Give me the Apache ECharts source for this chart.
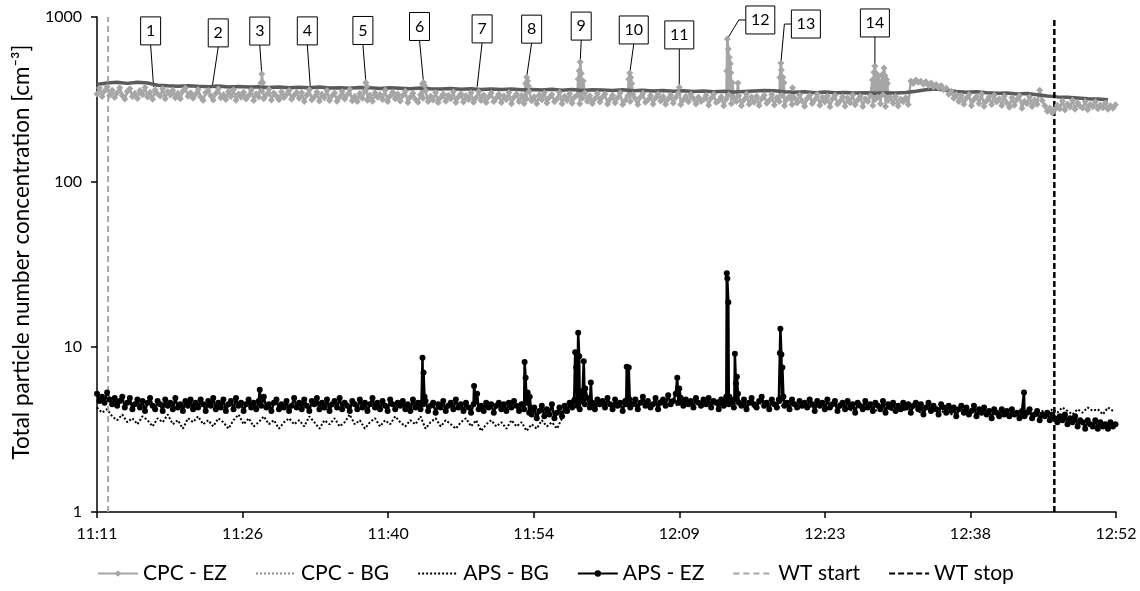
<!DOCTYPE html>
<html lang="en">
<head>
<meta charset="UTF-8">
<title>Total particle number concentration</title>
<script src="https://cdn.jsdelivr.net/npm/echarts@6/dist/echarts.min.js"></script>
<style>
    html, body { margin: 0; padding: 0; background: #fff; }
    #chart { width: 1140px; height: 591px; }
</style>
</head>
<body>
<div id="chart"></div>
<script>
    // x values are minutes after 11:11:46, axis ticks every 14.4 min (0.01 day)
    var startClock = 11 * 60 + 11 + 46 / 60;
    var tickStep = 14.4;
    var axisEnd = 100.8;
    var ezStep = 0.25;      // min between samples of the EZ arrays
    var apsBgStep = 0.5;    // min between samples of APS - BG
    var cpcBgStep = 1;      // min between samples of CPC - BG

    // CPC - EZ, two rows per 10 minutes
    var cpcEz = [
        342, 371, 330, 356, 378, 336, 360, 325, 347, 372, 334, 318, 354, 367, 330, 345, 321, 358, 338, 374,
        327, 350, 317, 362, 341, 332, 368, 320, 353, 337, 360, 324, 345, 319, 356, 371, 331, 348, 322, 340,
        364, 327, 312, 347, 359, 333, 314, 344, 368, 324, 338, 316, 354, 330, 362, 313, 341, 326, 350, 318,
        334, 360, 312, 343, 328, 356, 320, 337, 365, 314, 346, 332, 315, 352, 325, 340, 358, 317, 335, 349,
        322, 347, 308, 336, 362, 315, 329, 351, 310, 340, 324, 358, 312, 333, 346, 309, 327, 354, 318, 338,
        364, 311, 331, 308, 344, 322, 356, 313, 335, 309, 348, 326, 339, 316, 360, 308, 332, 350, 319, 342,
        310, 334, 355, 303, 327, 345, 317, 304, 338, 322, 358, 307, 331, 314, 349, 303, 325, 341, 309, 336,
        320, 352, 303, 328, 343, 305, 333, 316, 347, 304, 324, 354, 312, 337, 303, 329, 346, 308, 323, 340,
        303, 332, 316, 349, 298, 326, 341, 308, 334, 299, 320, 353, 311, 329, 298, 337, 315, 346, 301, 325,
        339, 306, 318, 350, 298, 331, 312, 343, 300, 327, 335, 298, 322, 347, 309, 333, 299, 319, 344, 305,
        328, 341, 297, 317, 336, 302, 324, 348, 295, 313, 332, 307, 339, 319, 295, 326, 345, 304, 315, 334,
        297, 323, 342, 310, 330, 296, 318, 337, 301, 325, 346, 295, 314, 331, 306, 340, 320, 297, 328, 308,
        316, 335, 292, 322, 341, 303, 311, 329, 290, 318, 338, 298, 324, 307, 333, 290, 315, 342, 296, 327,
        304, 331, 291, 319, 336, 300, 312, 339, 293, 325, 307, 334, 290, 317, 330, 295, 323, 301, 337, 310,
        288, 321, 334, 299, 315, 340, 292, 326, 305, 332, 286, 318, 335, 297, 309, 329, 288, 323, 302, 337,
        294, 314, 331, 287, 320, 307, 333, 291, 316, 328, 298, 338, 287, 312, 325, 300, 330, 289, 317, 306,
        324, 295, 410, 396, 415, 402, 408, 391, 405, 384, 398, 377, 390, 372, 385, 362, 370, 340, 355, 322,
        340, 308, 333, 296, 322, 339, 290, 316, 330, 299, 341, 288, 311, 328, 295, 335, 306, 320, 291, 332,
        302, 284, 325, 292, 316, 333, 280, 309, 298, 328, 287, 314, 296, 360, 312, 290, 268, 281, 262, 275,
        292, 278, 310, 273, 297, 285, 313, 276, 302, 288, 281, 308, 274, 295, 286, 306, 278, 293, 282, 301, 276, 290, 280, 294
    ];
    // short CPC - EZ peaks [minute, value]
    var cpcEzPeaks = [
        [16.2, 398], [16.3, 451], [16.4, 401],
        [26.6, 401], [26.7, 380],
        [32.2, 392], [32.3, 401], [32.4, 385],
        [42.4, 395], [42.5, 432], [42.6, 410], [42.7, 380],
        [47.6, 420], [47.7, 473], [47.8, 533], [47.9, 455], [48.1, 410],
        [52.6, 420], [52.7, 458], [52.8, 430], [52.9, 395],
        [57.6, 375],
        [62.3, 470], [62.35, 736], [62.45, 640], [62.55, 570], [62.65, 520], [62.7, 460], [62.85, 400],
        [63.4, 398],
        [67.55, 430], [67.65, 526], [67.7, 478], [67.85, 432], [67.95, 400],
        [68.8, 372],
        [76.7, 415], [76.85, 462], [76.95, 505], [77.1, 455], [77.2, 412], [77.3, 438],
        [77.6, 405], [77.7, 450], [77.85, 491], [77.95, 440], [78.1, 418], [78.2, 395]
    ];
    var cpcBg = [
        390, 398, 402, 396, 402, 398, 386, 383, 381, 383,
        380, 378, 382, 377, 379, 376, 378, 374, 377, 373,
        375, 372, 376, 371, 373, 370, 374, 372, 369, 373,
        370, 367, 371, 368, 366, 369, 365, 367, 364, 366,
        363, 366, 362, 364, 361, 365, 360, 363, 359, 362,
        361, 358, 362, 357, 360, 356, 359, 355, 357, 354,
        356, 352, 355, 351, 354, 356, 358, 357, 352, 350,
        352, 348, 351, 347, 349, 346, 348, 345, 347, 346,
        349, 355, 362, 366, 360, 354, 350, 352, 348, 345,
        346, 342, 344, 338, 332, 328, 326, 323, 320, 318,
        315
    ];
    var apsBg = [
        4.3, 4.0, 4.2, 3.8, 3.6, 3.9, 3.5, 3.7, 3.4, 3.8, 3.6, 3.3, 3.7, 3.5, 3.9, 3.4, 3.6, 3.2, 3.7, 3.5,
        3.8, 3.4, 3.6, 3.3, 3.7, 3.5, 3.2, 3.6, 3.9, 3.4, 3.7, 3.3, 3.5, 3.8, 3.4, 3.6, 3.2, 3.5, 3.7, 3.4,
        3.6, 3.3, 3.8, 3.5, 3.2, 3.6, 3.4, 3.7, 3.3, 3.5, 3.9, 3.4, 3.6, 3.2, 3.5, 3.7, 3.3, 3.6, 3.4, 3.8,
        3.5, 3.3, 3.6, 3.4, 3.8, 3.2, 3.5, 3.7, 3.3, 3.6, 3.4, 3.2, 3.5, 3.7, 3.3, 3.6, 3.1, 3.4, 3.6, 3.3,
        3.5, 3.2, 3.6, 3.3, 3.5, 3.1, 3.4, 3.2, 3.6, 3.3, 3.5, 3.2, 3.7, 4.2, 4.5, 4.3, 4.6, 4.4, 4.7, 4.3,
        4.5, 4.7, 4.3, 4.6, 4.4, 4.8, 4.5, 4.3, 4.7, 4.6, 4.4, 4.8, 4.5, 4.9, 4.6, 4.4, 4.7, 4.5, 4.8, 4.6,
        4.4, 4.7, 4.5, 4.8, 4.3, 4.6, 4.5, 4.7, 4.4, 4.6, 4.3, 4.5, 4.7, 4.4, 4.6, 4.3, 4.5, 4.7, 4.4, 4.2,
        4.5, 4.3, 4.6, 4.4, 4.2, 4.5, 4.3, 4.6, 4.4, 4.1, 4.3, 4.5, 4.2, 4.4, 4.1, 4.3, 4.5, 4.2, 4.0, 4.3,
        4.1, 4.4, 4.2, 4.0, 4.3, 4.1, 4.4, 4.0, 4.2, 3.9, 4.1, 4.3, 4.0, 4.2, 3.9, 4.1, 4.0, 4.2, 3.8, 4.1,
        4.0, 3.8, 4.1, 3.9, 4.2, 3.8, 4.0, 4.1, 3.9, 4.2, 4.0, 4.3, 4.1, 3.9, 4.2, 4.0, 4.3, 4.1, 4.2, 3.9, 4.3, 4.1
    ];
    // APS - EZ, two rows per 10 minutes
    var apsEz = [
        5.2, 4.7, 5.0, 4.6, 5.3, 4.8, 4.5, 4.9, 4.4, 4.7, 5.0, 4.3, 4.6, 4.9, 4.2, 4.5, 4.8, 4.3, 4.7, 4.1,
        4.6, 4.9, 4.4, 4.2, 4.7, 4.5, 4.1, 4.8, 4.4, 4.6, 4.2, 4.9, 4.3, 4.5, 4.1, 4.7, 4.4, 4.8, 4.2, 4.6,
        4.3, 4.8, 4.5, 4.1, 4.7, 4.4, 4.9, 4.2, 4.6, 4.3, 4.8, 4.1, 4.5, 4.7, 4.2, 4.9, 4.4, 4.6, 4.1, 4.5,
        4.8, 4.3, 4.6, 4.2, 4.7, 4.4, 5.0, 4.3, 4.5, 4.1, 4.6, 4.8, 4.2, 4.5, 4.3, 4.7, 4.1, 4.4, 4.9, 4.3,
        4.6, 4.2, 4.8, 4.4, 4.1, 4.7, 4.5, 4.9, 4.2, 4.6, 4.3, 4.8, 4.1, 4.5, 4.7, 4.3, 4.9, 4.2, 4.6, 4.4,
        4.1, 4.7, 4.5, 4.2, 4.8, 4.3, 4.6, 4.1, 4.5, 4.9, 4.3, 4.6, 4.2, 4.7, 4.4, 4.1, 4.8, 4.5, 4.2, 4.6,
        4.4, 4.7, 4.2, 4.5, 4.1, 4.8, 4.3, 4.6, 4.2, 4.5, 4.7, 4.1, 4.4, 4.6, 4.0, 4.5, 4.3, 4.7, 4.1, 4.4,
        4.6, 4.2, 4.8, 4.3, 4.5, 4.1, 4.6, 4.3, 4.0, 4.5, 4.7, 4.2, 4.4, 4.1, 4.6, 4.3, 4.5, 4.0, 4.4, 4.6,
        4.2, 4.5, 4.1, 4.6, 4.3, 4.7, 4.4, 4.1, 4.5, 4.2, 4.6, 4.0, 3.9, 4.3, 3.7, 4.1, 4.4, 3.8, 4.2, 3.9,
        4.5, 3.7, 4.0, 4.3, 3.8, 4.4, 4.1, 4.6, 4.3, 4.8, 4.4, 4.2, 4.7, 4.5, 4.9, 4.3, 4.6, 4.2, 4.8, 4.5,
        4.7, 4.3, 4.9, 4.5, 4.2, 4.8, 4.4, 4.6, 4.1, 4.7, 4.9, 4.3, 4.5, 4.8, 4.2, 4.6, 5.0, 4.4, 4.7, 4.3,
        4.5, 4.9, 4.2, 4.6, 4.8, 4.4, 5.1, 4.5, 4.7, 5.2, 4.6, 4.9, 4.4, 4.8, 4.5, 4.7, 4.3, 4.9, 4.6, 4.4,
        4.8, 4.5, 4.9, 4.3, 4.7, 4.6, 4.2, 4.8, 4.4, 5.0, 4.5, 4.7, 4.3, 4.9, 4.6, 4.4, 4.8, 4.2, 4.6, 4.9,
        4.5, 4.3, 4.7, 5.0, 4.4, 4.6, 4.2, 4.8, 4.5, 4.3, 4.7, 4.9, 4.4, 4.6, 4.2, 4.8, 4.5, 4.3, 4.7, 4.4,
        4.6, 4.3, 4.8, 4.5, 4.1, 4.7, 4.4, 4.6, 4.2, 4.8, 4.3, 4.5, 4.7, 4.1, 4.4, 4.6, 4.2, 4.7, 4.3, 4.5,
        4.0, 4.6, 4.4, 4.2, 4.7, 4.3, 4.5, 4.1, 4.6, 4.4, 4.2, 4.7, 4.0, 4.5, 4.3, 4.6, 4.1, 4.4, 4.2, 4.6,
        4.3, 4.5, 4.0, 4.4, 4.6, 4.2, 4.5, 3.9, 4.3, 4.6, 4.1, 4.4, 4.2, 3.9, 4.5, 4.3, 4.0, 4.4, 4.1, 4.3,
        3.8, 4.2, 4.4, 4.0, 4.3, 3.9, 4.1, 4.4, 3.8, 4.2, 4.0, 4.3, 3.9, 4.1, 3.7, 4.2, 4.0, 3.8, 4.2, 3.9,
        4.1, 3.8, 4.2, 3.9, 4.0, 3.7, 4.1, 3.8, 4.0, 4.2, 3.7, 3.9, 4.1, 3.6, 3.9, 3.8, 4.0, 3.6, 3.9, 3.7,
        3.5, 3.8, 3.6, 3.9, 3.4, 3.7, 3.5, 3.8, 3.3, 3.6, 3.5, 3.2, 3.6, 3.4, 3.3, 3.6, 3.2, 3.5, 3.3, 3.4, 3.2, 3.5, 3.3, 3.4
    ];
    var apsEzPeaks = [
        [16.1, 5.5],
        [32.1, 4.6], [32.2, 8.6], [32.3, 7.0], [32.4, 5.0],
        [37.3, 5.8], [37.6, 5.2],
        [42.2, 4.5], [42.3, 8.1], [42.4, 6.5], [42.6, 5.3], [42.8, 5.0],
        [47.2, 4.7], [47.3, 9.3], [47.4, 7.5], [47.6, 12.2], [47.7, 8.8], [47.85, 5.4],
        [48.15, 8.2], [48.3, 5.6], [48.85, 6.1], [48.95, 4.6],
        [52.35, 4.5], [52.4, 7.6], [52.6, 7.5], [52.7, 4.8],
        [57.4, 6.5], [57.6, 5.6],
        [62.2, 4.7], [62.3, 28.0], [62.35, 26.0], [62.45, 18.7], [62.55, 5.0],
        [63.05, 4.8], [63.1, 9.1], [63.2, 6.0], [63.3, 6.6], [63.4, 5.2],
        [67.45, 4.8], [67.55, 9.2], [67.6, 12.9], [67.7, 9.0], [67.8, 7.5], [67.9, 5.0],
        [91.7, 5.3]
    ];
    var wtStart = 1.1;
    var wtStop = 94.7;

    var eventNames = ['1', '2', '3', '4', '5', '6', '7', '8', '9', '10', '11', '12', '13', '14'];
    var eventTimes = [5.6, 11.4, 16.3, 21.1, 26.6, 32.3, 37.6, 42.5, 47.8, 52.7, 57.6, 62.35, 67.65, 76.95];
    var eventValues = [377, 377, 451, 377, 401, 401, 377, 432, 533, 458, 377, 736, 526, 505];

    // label box offset from its point in px, and whether the leader leaves from the box side
    var labelOffsets = [[-3, -56], [6, -54], [-2, -43], [-3, -56], [-3, -52], [-4, -56], [5, -58],
        [5, -48], [1, -36], [4, -43], [0, -52], [33, -19], [25, -39], [0, -43]];
    var sideLeader = [false, false, false, false, false, false, false, false, false, false, false, true, true, false];

    var font = 'Lato, "DejaVu Sans", sans-serif';

    function toPoints(values, step, peaks) {
        var pts = values.map(function (v, i) { return [i * step, v]; });
        if (peaks) pts = pts.concat(peaks);
        pts.sort(function (a, b) { return a[0] - b[0]; });
        return pts;
    }

    function clock(v) {
        var m = Math.floor(startClock + v + 1e-6);
        var mm = m % 60;
        return Math.floor(m / 60) + ':' + (mm < 10 ? '0' : '') + mm;
    }

    var noSymbol = { opacity: 0 };

    var chart = echarts.init(document.getElementById('chart'));
    chart.setOption({
        animation: false,
        backgroundColor: '#fff',
        grid: { left: 97, right: 24, top: 17, bottom: 79 },
        legend: {
            left: 92,
            bottom: 2,
            itemWidth: 40,
            itemHeight: 8,
            itemGap: 28,
            textStyle: { fontFamily: font, fontSize: 21, color: '#000' },
            data: [
                { name: 'CPC - EZ' },
                { name: 'CPC - BG', itemStyle: noSymbol, lineStyle: { type: 'dotted', color: '#8c8c8c', width: 2 } },
                { name: 'APS - BG', itemStyle: noSymbol },
                { name: 'APS - EZ' },
                { name: 'WT start', itemStyle: noSymbol },
                { name: 'WT stop', itemStyle: noSymbol }
            ]
        },
        xAxis: {
            type: 'value',
            min: 0,
            max: axisEnd,
            interval: tickStep,
            splitLine: { show: false },
            axisLine: { lineStyle: { color: '#000', width: 1.5 } },
            axisTick: { length: 6, lineStyle: { color: '#000', width: 1.5 } },
            axisLabel: { margin: 14, fontFamily: font, fontSize: 16, color: '#000', formatter: clock }
        },
        yAxis: {
            type: 'log',
            logBase: 10,
            min: 1,
            max: 1000,
            name: 'Total particle number concentration [cm\u207B\u00B3]',
            nameLocation: 'middle',
            nameGap: 64,
            nameTextStyle: { fontFamily: font, fontSize: 22.5, color: '#000', padding: [0, 0, 0, 25] },
            splitLine: { show: false },
            axisLine: { show: true, lineStyle: { color: '#000', width: 1.5 } },
            axisTick: { show: true, length: 6, lineStyle: { color: '#000', width: 1.5 } },
            axisLabel: {
                margin: 15, fontFamily: font, fontSize: 16, color: '#000',
                formatter: function (v) { return String(v); }
            }
        },
        series: [
            {
                name: 'CPC - EZ',
                type: 'line',
                data: toPoints(cpcEz, ezStep, cpcEzPeaks),
                symbol: 'diamond',
                symbolSize: 7,
                showAllSymbol: true,
                color: '#a6a6a6',
                lineStyle: { color: '#a6a6a6', width: 2.5 },
                itemStyle: { color: '#a6a6a6' }
            },
            {
                name: 'CPC - BG',
                type: 'line',
                data: toPoints(cpcBg, cpcBgStep),
                symbol: 'none',
                color: '#5a5a5a',
                lineStyle: { color: '#5a5a5a', width: 3.5 }
            },
            {
                name: 'APS - BG',
                type: 'line',
                data: toPoints(apsBg, apsBgStep),
                symbol: 'none',
                color: '#000',
                lineStyle: { color: '#000', width: 2, type: 'dotted' }
            },
            {
                name: 'APS - EZ',
                type: 'line',
                data: toPoints(apsEz, ezStep, apsEzPeaks),
                symbol: 'circle',
                symbolSize: 6,
                showAllSymbol: true,
                color: '#000',
                lineStyle: { color: '#000', width: 2.5 },
                itemStyle: { color: '#000' }
            },
            {
                name: 'WT start',
                type: 'line',
                data: [[wtStart, 1], [wtStart, 1000]],
                symbol: 'none',
                color: '#a6a6a6',
                lineStyle: { color: '#a6a6a6', width: 2, type: [6, 4] }
            },
            {
                name: 'WT stop',
                type: 'line',
                data: [[wtStop, 1], [wtStop, 1000]],
                symbol: 'none',
                color: '#000',
                lineStyle: { color: '#000', width: 2.5, type: [6, 3] }
            },
            {
                name: 'events',
                type: 'custom',
                clip: false,
                data: eventTimes.map(function (t, i) { return [t, eventValues[i]]; }),
                encode: { x: 0, y: 1 },
                renderItem: function (params, api) {
                    var i = params.dataIndex;
                    var p = api.coord([api.value(0), api.value(1)]);
                    var off = labelOffsets[i];
                    var cx = p[0] + off[0], cy = p[1] + off[1];
                    var w = eventNames[i].length > 1 ? 29 : 20, h = 28;
                    var pts = sideLeader[i]
                        ? [p, [cx - w / 2 - 7, cy], [cx - w / 2, cy]]
                        : [p, [cx, cy + h / 2]];
                    return {
                        type: 'group',
                        children: [
                            { type: 'polyline', shape: { points: pts }, style: { stroke: '#000', lineWidth: 1, fill: null } },
                            { type: 'rect', shape: { x: cx - w / 2, y: cy - h / 2, width: w, height: h },
                              style: { fill: '#fff', stroke: '#000', lineWidth: 1 } },
                            { type: 'text', style: { text: eventNames[i], x: cx, y: cy, align: 'center',
                              verticalAlign: 'middle', fontFamily: font, fontSize: 16, fill: '#000' } }
                        ]
                    };
                }
            }
        ]
    });
</script>
</body>
</html>
